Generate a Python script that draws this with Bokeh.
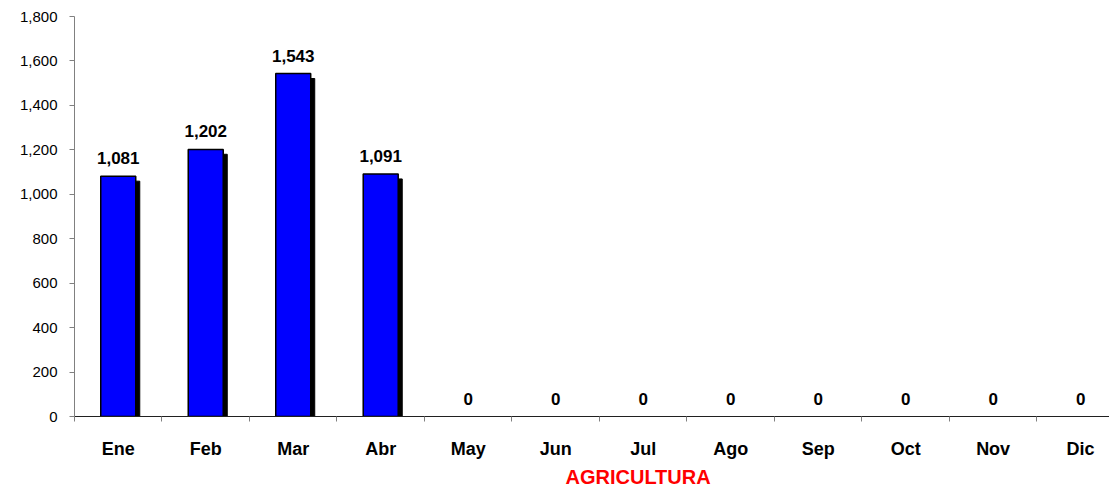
from bokeh.plotting import figure
from bokeh.models import (Range1d, FixedTicker, NumeralTickFormatter, ColumnDataSource,
                          Title, SingleIntervalTicker, CDSView, BooleanFilter)
from bokeh.transform import dodge
from bokeh.embed import file_html
from bokeh.resources import INLINE
from bokeh.core.properties import value

# ---- data ----
months = ["Ene", "Feb", "Mar", "Abr", "May", "Jun", "Jul", "Ago", "Sep", "Oct", "Nov", "Dic"]
values = [1081, 1202, 1543, 1091, 0, 0, 0, 0, 0, 0, 0, 0]
axis_title = "AGRICULTURA"

FONT = "Liberation Sans"

xs = [i + 0.5 for i in range(len(months))]
labels = [f"{v:,}" for v in values]
src = ColumnDataSource(dict(x=xs, top=values, label=labels))
nonzero = CDSView(filter=BooleanFilter([v > 0 for v in values]))

p = figure(width=1109, height=492, output_backend="svg", toolbar_location=None,
           x_range=Range1d(0, 11.83), y_range=Range1d(0, 1800),
           min_border_left=74, min_border_right=0, min_border_top=16, min_border_bottom=76)
p.outline_line_color = None
p.xgrid.visible = False
p.ygrid.visible = False
p.background_fill_color = "white"
p.border_fill_color = "white"

# shadow (offset a few pixels right/down)
p.vbar(x=dodge("x", 0.046, range=p.x_range), top=dodge("top", -22, range=p.y_range), bottom=0,
       width=0.4, source=src, view=nonzero, fill_color="black", line_color="black", line_width=1)
# bars
p.vbar(x="x", top="top", bottom=0, width=0.4, source=src, view=nonzero,
       fill_color="#0000FF", line_color="black", line_width=1.5)
# value labels
p.text(x="x", y="top", text="label", source=src, text_align="center", text_baseline="bottom",
       y_offset=-12, text_font=value(FONT), text_font_style="bold", text_font_size="17px",
       text_color="black")

# x axis
xa = p.xaxis[0]
xa.ticker = FixedTicker(ticks=xs, minor_ticks=list(range(len(months) + 1)))
xa.major_label_overrides = {x: m for x, m in zip(xs, months)}
xa.major_tick_line_color = None
xa.major_tick_out = 0
xa.major_tick_in = 0
xa.minor_tick_out = 5
xa.minor_tick_in = 0
xa.minor_tick_line_color = "#808080"
xa.axis_line_color = "#202020"
xa.major_label_standoff = 17
xa.major_label_text_font = FONT
xa.major_label_text_font_style = "bold"
xa.major_label_text_font_size = "18px"
xa.major_label_text_color = "black"

# y axis
ya = p.yaxis[0]
ya.ticker = SingleIntervalTicker(interval=200)
ya.formatter = NumeralTickFormatter(format="0,0")
ya.minor_tick_line_color = None
ya.major_tick_out = 5
ya.major_tick_in = 0
ya.axis_line_color = "#808080"
ya.major_tick_line_color = "#808080"
ya.major_label_standoff = 12
ya.major_label_text_font = FONT
ya.major_label_text_font_size = "15px"
ya.major_label_text_color = "black"

t = Title(text=axis_title, align="left", offset=491, text_color="#FF0000",
          text_font=FONT, text_font_style="bold", text_font_size="20px", standoff=4)
p.add_layout(t, "below")

open("out.html", "w").write(file_html(p, INLINE))
